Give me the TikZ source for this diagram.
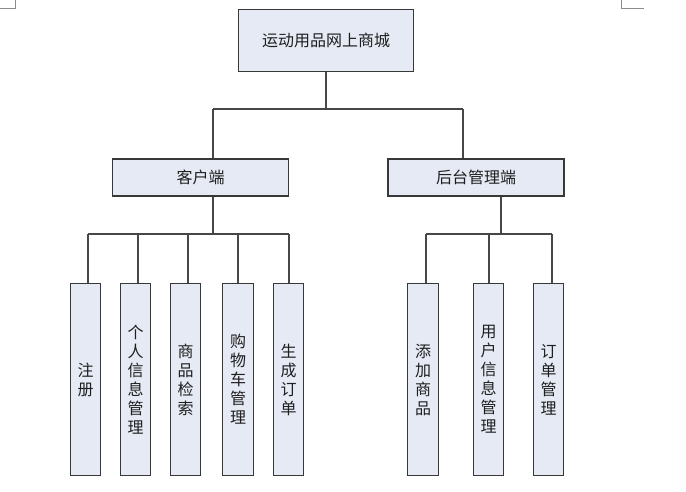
\documentclass[tikz,border=0pt]{standalone}
\usepackage{fontspec}
\setmainfont{Noto Sans CJK SC}
\begin{document}
\begin{tikzpicture}[x=0.75pt,y=-0.75pt,
  box/.style={draw=black!78,line width=0.9pt,fill=boxfill,inner sep=0pt,
    font=\fontsize{12}{14.25}\selectfont,text=black!88},
  hbox/.style={box,minimum width=#1*0.75pt,minimum height=37*0.75pt},
  vbox/.style={box,minimum width=30.5*0.75pt,minimum height=192*0.75pt,align=center},
  conn/.style={draw=black!72,line width=1pt},
  cornermark/.style={draw=black!45,line width=0.6pt}]
\definecolor{boxfill}{HTML}{E5EAF4}
\useasboundingbox (0,0) rectangle (686,492);
% corner marks
\draw[cornermark] (15,0) -- (15,8) -- (0,8);
\draw[cornermark] (621,0) -- (621,8) -- (644,8);
% nodes
\node[box,minimum width=175*0.75pt,minimum height=62.5*0.75pt] (top) at (326,40.5) {运动用品网上商城};
\node[hbox=176] (cl) at (200.5,177.5) {客户端};
\node[hbox=176] (cr) at (476,177.5) {后台管理端};
\node[vbox] (l1) at (85.5,379.5) {注\\册};
\node[vbox] (l2) at (135.5,379.5) {个\\人\\信\\息\\管\\理};
\node[vbox] (l3) at (185.5,379.5) {商\\品\\检\\索};
\node[vbox] (l4) at (238,379.5) {购\\物\\车\\管\\理};
\node[vbox] (l5) at (288.5,379.5) {生\\成\\订\\单};
\node[vbox] (r1) at (423,379.5) {添\\加\\商\\品};
\node[vbox] (r2) at (488.5,379.5) {用\\户\\信\\息\\管\\理};
\node[vbox] (r3) at (548.5,379.5) {订\\单\\管\\理};
% bus coordinates
\coordinate (t1) at (213,109);
\coordinate (t2) at (463,109);
\coordinate (a1) at (88,234);
\coordinate (a2) at (138,234);
\coordinate (a3) at (188,234);
\coordinate (a4) at (238,234);
\coordinate (a5) at (289,234);
\coordinate (am) at (213,234);
\coordinate (b1) at (426,234);
\coordinate (b2) at (489,234);
\coordinate (b3) at (552,234);
\coordinate (bm) at (501,234);
% connectors top
\draw[conn] (top.south) -- (top.south |- t1);
\draw[conn] (t1) -- (t2);
\draw[conn] (t1) -- (t1 |- cl.north);
\draw[conn] (t2) -- (t2 |- cr.north);
% left group
\draw[conn] (am |- cl.south) -- (am);
\draw[conn] (a1) -- (a5);
\draw[conn] (a1) -- (a1 |- l1.north);
\draw[conn] (a2) -- (a2 |- l2.north);
\draw[conn] (a3) -- (a3 |- l3.north);
\draw[conn] (a4) -- (a4 |- l4.north);
\draw[conn] (a5) -- (a5 |- l5.north);
% right group
\draw[conn] (bm |- cr.south) -- (bm);
\draw[conn] (b1) -- (b3);
\draw[conn] (b1) -- (b1 |- r1.north);
\draw[conn] (b2) -- (b2 |- r2.north);
\draw[conn] (b3) -- (b3 |- r3.north);
\end{tikzpicture}
\end{document}
